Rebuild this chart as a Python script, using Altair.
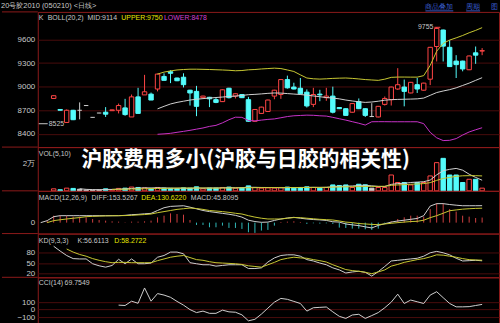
import altair as alt
import pandas as pd

# ---------------- data ----------------
opens = [8850,8710,8545,8700,8700,8760,8610,8665,8675,8695,
         8700,8730,8615,8870,8895,8905,8970,9130,9190,9110,
         9120,8955,8940,8860,8865,8835,8810,8980,8880,8900,
         8835,8560,8660,8685,8880,8900,9090,8995,8980,8930,
         8775,8905,8860,8880,8735,8720,8675,8810,8720,8620,
         8615,8775,8835,8970,8995,8920,9025,8955,9095,9510,
         9720,9500,9325,9325,9215,9430,9452]
closes = [8885,8700,8700,8580,8700,8760,8610,8665,8650,8705,
          8760,8645,8870,8660,8935,8830,9160,9080,9170,9075,
          9025,8920,8750,8880,8845,8800,8960,8860,8910,8860,
          8560,8710,8740,8830,8955,9090,8985,8970,8910,8755,
          8900,8895,8880,8675,8720,8635,8785,8720,8635,8620,
          8750,8850,8995,9025,8940,9055,8970,9045,9500,9740,
          9515,9255,9280,9225,9390,9400,9458]
highs = [8890,8712,8710,8705,8800,8765,8612,8668,8740,8708,
         8785,8845,8900,8985,9150,8925,9165,9170,9210,9115,
         9170,8960,9010,8885,8870,8860,8965,8985,8915,8905,
         8870,8715,8745,8835,8960,9095,9140,9050,9110,8965,
         8985,8960,8985,9000,8740,8725,8790,8850,8725,8790,
         8755,8875,9000,9235,9090,9060,9110,9050,9505,9755,
         9725,9590,9400,9330,9395,9510,9490]
lows = [8845,8698,8540,8575,8585,8757,8608,8662,8615,8692,
        8660,8630,8615,8660,8895,8830,8940,9080,9045,9070,
        8990,8760,8625,8855,8740,8790,8805,8850,8850,8855,
        8555,8555,8655,8680,8840,8845,8975,8965,8900,8735,
        8740,8815,8820,8660,8715,8630,8670,8715,8615,8615,
        8610,8760,8760,8960,8750,8915,8920,8950,9020,9320,
        9320,9250,9110,9195,9210,9290,9400]
volumes = [1500,800,2000,1800,1200,500,500,600,1500,800,
           1800,2000,2800,2500,2200,1500,2500,2000,1800,1500,
           2200,2000,3000,1500,2000,2000,2500,2800,2000,2000,
           3700,2500,2000,2200,2000,2500,2800,2000,2500,3000,
           2500,2000,2500,4400,4000,4400,2500,4900,4500,2000,
           2500,2500,11800,6200,6200,4400,6200,6200,11100,21000,
           24200,11800,11800,6200,8600,8600,2000]
vol_ma5 = [None]*4 + [1560,1100,920,880,1000,1040,1220,1400,1780,1980,
                      2260,2160,2300,2200,2000,1920,2000,1800,2100,2000,
                      2140,2100,2200,2360,2260,2400,
                      2600,2600,2500,2480,2480,2200,2400,2400,2500,2560,
                      2600,2560,2600,3000,3280,3500,3600,4000,4140,3700,3300,
                      3200,4800,5400,5600,6200,6500,6800,8000,11900,15000,
                      16000,16700,15400,12400,10000,7900]
vol_ma10 = [None]*9 + [1100,1150,1250,1350,1450,1550,1650,1750,1850,1950,
                       2050,2100,2100,2100,2100,2050,2050,2100,2150,2200,2250,
                       2300,2350,2400,2400,2450,2450,2450,2450,2450,2500,
                       2550,2550,2600,2750,2900,3000,3050,3150,3250,3350,3300,
                       3400,4100,4400,4600,4900,5100,5400,6100,7800,9200,
                       10000,10800,11200,11300,11300,11100]
boll_start = 16
boll_mid = [8718,8750,8780,8800,8815,8830,8840,8848,8855,8862,
            8868,8875,8880,8888,8898,8902,8908,8915,8920,8918,
            8912,8906,8900,8892,8882,8872,8862,8855,8845,8830,
            8818,8808,8800,8805,8815,8828,8835,8838,8840,8842,
            8845,8855,8890,8925,8945,8962,8985,9015,9045,9080,9114]
boll_upper = [9160,9185,9200,9212,9218,9222,9222,9220,9218,9215,
              9212,9208,9202,9205,9214,9218,9225,9230,9235,9230,
              9212,9193,9150,9110,9100,9096,9100,9105,9108,9110,
              9105,9098,9090,9085,9080,9095,9118,9122,9122,9121,
              9121,9140,9270,9450,9550,9592,9620,9650,9685,9715,9750]
boll_lower = [8395,8400,8407,8420,8432,8445,8460,8475,8495,8508,
              8540,8580,8612,8610,8570,8565,8575,8584,8590,8605,
              8620,8630,8634,8638,8636,8630,8626,8610,8592,8575,
              8555,8535,8512,8554,8555,8555,8554,8554,8554,8554,
              8554,8530,8420,8350,8315,8318,8340,8385,8424,8452,8478]
macd_start = -2
macd_diff = [0,18,54,63,63,63,63,63,63,63,
             63,63,63,66,72,75,80,84,110,135,
             147,150,153,140,125,110,100,92,84,76,
             66,50,22,10,3,5,20,33,42,48,
             40,33,28,25,20,8,5,-12,-20,-27,
             -38,-48,-25,-10,5,15,22,30,38,63,
             150,172,172,164,158,153,153,153,153.5]
macd_dea = [None,0,18,26,33,40,46,54,57,59,
            61,62,63,64,66,70,73,78,90,100,
            110,120,126,132,128,120,110,105,100,93,
            85,78,63,50,40,33,33,33,40,46,
            45,40,35,30,27,24,15,5,0,-8,
            -12,-16,-18,-12,-6,0,5,10,12,22,
            45,63,85,108,115,122,126,129,130.6]
macd_bar = [0,18,63,63,63,54,54,48,33,24,
            18,12,9,3,9,9,12,18,48,63,
            84,78,72,24,-21,-21,-42,-42,-27,-48,
            -48,-57,-87,-93,-72,-66,-27,6,9,12,
            6,-12,-6,-9,-6,-12,-45,-48,-54,-54,
            -60,-66,-54,-6,12,33,48,63,63,54,
            123,174,174,123,100,63,54,42,46]
kd_k = [99,85,72,63,62,62,48,42,38,43,
        61,48,62,48,48,50,67,72,82,82,
        77,51,48,45,45,41,43,45,45,45,
        34,34,36,53,65,72,74,74,70,60,
        56,50,45,36,30,21,24,26,23,12,
        25,40,56,58,60,62,64,70,80,84,
        80,74,64,56,57,58,56.6]
kd_d = [None,None,91,82,75,70,63,58,54,51,
        52,52,51,51,51,51,57,62,67,70,
        72,66,60,58,54,51,50,49,48,46,
        42,40,38,45,52,60,64,67,65,64,
        60,57,53,45,38,31,28,26,23,19,
        24,30,41,46,52,56,60,63,68,74,
        73,70,67,63,60,59,58.3]
cci_start = 10
cci_vals = [60,55,113,85,290,113,215,195,165,110,
            60,0,-40,-20,-50,-50,-7,-30,-35,-70,
            -150,-130,-60,20,100,150,138,110,82,-20,
            25,30,35,-30,-90,-118,-72,-63,-118,-80,
            -40,25,100,207,82,128,105,82,195,240,
            160,82,37,37,40,55,69.75]
price_ticks = [8400, 8700, 9000, 9300, 9600]
vol_ticks = [20000]
macd_ticks = [0]
kd_ticks = [20, 50, 80]
cci_ticks = [-100, 0, 100]

title_text = "沪胶费用多小(沪胶与日胶的相关性)"
header_text = "20号胶2010 (050210) <日线>"

# ---------------- style ----------------
BG = "#000000"
BORDER = "#8c1a1a"
GRID = "#4a0c0c"
RED = "#ff4646"
CYAN = "#54fcfc"
WHITE = "#d0d0d0"
YEL = "#c8c832"
YELT = "#e6e600"
MAG = "#c832c8"
MAGT = "#d040d0"
TXT = "#c8c8c8"
BLUE = "#3a5fd0"
W = 464
XDOM = [-2.45, 68.6]
LF = "Liberation Sans"
HW = 0.34

one = pd.DataFrame({"a": [0]})


def xq(field):
    return alt.X(field, type="quantitative",
                 scale=alt.Scale(domain=XDOM, nice=False, zero=False), axis=None)


def yax(values, grid=True, expr=None):
    kw = dict(values=values, grid=grid, gridColor=GRID, gridWidth=1, ticks=False,
              domain=False, labelColor=TXT, labelFont=LF, labelFontSize=8,
              labelPadding=3, minExtent=36, maxExtent=36, title=None,
              labelOverlap=False, format="d")
    if expr:
        kw["labelExpr"] = expr
    return alt.Axis(**kw)


def yq(field, dom, ax):
    return alt.Y(field, type="quantitative",
                 scale=alt.Scale(domain=dom, nice=False, zero=False), axis=ax)


def txt(s, px, py, color=TXT, size=7, font=LF, align="left", weight="normal"):
    return alt.Chart(one).mark_text(text=s, align=align, baseline="middle",
                                    fontSize=size, font=font, color=color,
                                    fontWeight=weight).encode(
        x=alt.value(px), y=alt.value(py))


def left_sep():
    return alt.Chart(one).mark_rule(color=BORDER, strokeWidth=1).encode(
        x=alt.value(-36), x2=alt.value(0), y=alt.value(0))


def series(vals, start, name, color):
    rows = [dict(i=start + k, v=v, s=name, col=color)
            for k, v in enumerate(vals) if v is not None]
    return pd.DataFrame(rows)


# ---------------- frames ----------------
rows = []
for k in range(len(opens)):
    o, c = opens[k], closes[k]
    kind = "up" if c > o else ("down" if c < o else "flat")
    col = RED if kind == "up" else (CYAN if kind == "down" else WHITE)
    fillc = BG if kind == "up" else col
    rows.append(dict(i=k, o=o, c=c, h=highs[k], l=lows[k], kind=kind, col=col,
                     fillc=fillc, x0=k - HW, x1=k + HW, top=max(o, c),
                     bot=min(o, c), vol=volumes[k]))
cdf = pd.DataFrame(rows)
body_df = cdf[cdf.kind != "flat"]
flat_df = cdf[cdf.kind == "flat"]

# ---------------- header ----------------
header = alt.layer(
    alt.Chart(one).mark_point(opacity=0, size=0).encode(
        y=alt.Y("a:Q", axis=alt.Axis(labels=False, ticks=False, domain=False,
                                     grid=False, minExtent=36, maxExtent=36,
                                     title=None))),
    txt(header_text, -37, 4, TXT, 7.5),
    txt("商品叠加", 390, 5, BLUE, 7),
    txt("周期", 431, 5, BLUE, 7),
    txt("图", 456, 5, BLUE, 7),
    alt.Chart(one).mark_rule(color=BLUE).encode(x=alt.value(390), x2=alt.value(418), y=alt.value(9)),
    alt.Chart(one).mark_rule(color=BLUE).encode(x=alt.value(431), x2=alt.value(445), y=alt.value(9)),
).properties(width=W, height=10, view=alt.ViewBackground(stroke="transparent"))

# ---------------- price panel ----------------
PD = [8232, 9950]
pax = yax(price_ticks)
boll_df = pd.concat([
    series(boll_mid, boll_start, "mid", WHITE),
    series(boll_upper, boll_start, "upper", YEL),
    series(boll_lower, boll_start, "lower", MAG),
])
price = alt.layer(
    alt.Chart(cdf).mark_rule(strokeWidth=1).encode(
        x=xq("i"), y=yq("l", PD, pax), y2="h",
        color=alt.Color("col:N", scale=None)),
    alt.Chart(body_df).mark_rect(strokeWidth=1).encode(
        x=xq("x0"), x2="x1", y=yq("bot", PD, pax), y2="top",
        fill=alt.Fill("fillc:N", scale=None), stroke=alt.Stroke("col:N", scale=None)),
    alt.Chart(flat_df).mark_rule(strokeWidth=1).encode(
        x=xq("x0"), x2="x1", y=yq("c", PD, pax),
        color=alt.Color("col:N", scale=None)),
    alt.Chart(boll_df).mark_line(strokeWidth=1).encode(
        x=xq("i"), y=yq("v", PD, pax), color=alt.Color("col:N", scale=None),
        detail="s:N"),
    left_sep(),
    txt("K", 1, 6, TXT),
    txt("BOLL(20,2)", 10, 6, TXT),
    txt("MID:9114", 50, 6, TXT),
    txt("UPPER:9750", 84, 6, YELT),
    txt("LOWER:8478", 127, 6, MAGT),
    txt("9755", 398, 15, TXT, 7, align="right"),
    alt.Chart(one).mark_rule(color=RED).encode(x=alt.value(399), x2=alt.value(405), y=alt.value(15.5)),
    alt.Chart(one).mark_rule(color=TXT).encode(x=alt.value(1), x2=alt.value(10), y=alt.value(112.5)),
    txt("8525", 11, 112.5, TXT, 7),
).properties(width=W, height=136)

# ---------------- volume panel ----------------
VD = [0, 32593]
vax = yax(vol_ticks, grid=False, expr="datum.value == 20000 ? '2万' : ''")
vma_df = pd.concat([series(vol_ma5, 0, "ma5", WHITE), series(vol_ma10, 0, "ma10", YEL)])
volume = alt.layer(
    alt.Chart(cdf).mark_rect(strokeWidth=1).encode(
        x=xq("x0"), x2="x1", y=yq("vol", VD, vax), y2=alt.datum(0),
        fill=alt.Fill("fillc:N", scale=None), stroke=alt.Stroke("col:N", scale=None)),
    alt.Chart(vma_df).mark_line(strokeWidth=1).encode(
        x=xq("i"), y=yq("v", VD, vax), color=alt.Color("col:N", scale=None),
        detail="s:N"),
    left_sep(),
    txt("VOL(5,10)", 1, 7, TXT),
    txt(title_text, 210, 14, "#111111", 21, "Noto Sans CJK SC", "center", "bold"),
    txt(title_text, 209, 13, "#ffffff", 21, "Noto Sans CJK SC", "center", "bold"),
).properties(width=W, height=44)

# ---------------- MACD panel ----------------
MD = [-99, 288]
max_ = yax(macd_ticks, grid=False)
bar_df = pd.DataFrame([dict(i=macd_start + k, m=v, col=("#d04040" if v >= 0 else "#30b8b8"))
                       for k, v in enumerate(macd_bar)])
macd_lines = pd.concat([series(macd_diff, macd_start, "diff", WHITE),
                        series(macd_dea, macd_start, "dea", YEL)])
macd = alt.layer(
    alt.Chart(bar_df).mark_rule(strokeWidth=1).encode(
        x=xq("i"), y=yq("m", MD, max_), y2=alt.datum(0),
        color=alt.Color("col:N", scale=None)),
    alt.Chart(macd_lines).mark_line(strokeWidth=1).encode(
        x=xq("i"), y=yq("v", MD, max_), color=alt.Color("col:N", scale=None),
        detail="s:N"),
    left_sep(),
    txt("MACD(12,26,9)", 1, 7, TXT),
    txt("DIFF:153.5267", 54, 7, TXT),
    txt("DEA:130.6220", 104, 7, YELT),
    txt("MACD:45.8095", 154, 7, TXT),
).properties(width=W, height=43)

# ---------------- KD panel ----------------
KDD = [8.4, 136]
kax = yax(kd_ticks)
kd_df = pd.concat([series(kd_k, 0, "k", WHITE), series(kd_d, 0, "d", YEL)])
kd = alt.layer(
    alt.Chart(kd_df).mark_line(strokeWidth=1).encode(
        x=xq("i"), y=yq("v", KDD, kax), color=alt.Color("col:N", scale=None),
        detail="s:N"),
    left_sep(),
    txt("KD(9,3,3)", 1, 7, TXT),
    txt("K:56.6113", 40, 7, TXT),
    txt("D:58.2722", 77, 7, YELT),
).properties(width=W, height=44)

# ---------------- CCI panel ----------------
CD = [-180, 433]
cax = yax(cci_ticks)
cci_df = series(cci_vals, cci_start, "cci", WHITE)
cci = alt.layer(
    alt.Chart(cci_df).mark_line(strokeWidth=1).encode(
        x=xq("i"), y=yq("v", CD, cax), color=alt.Color("col:N", scale=None)),
    left_sep(),
    txt("CCI(14)", 1, 6, TXT),
    txt("69.7549", 27, 6, TXT),
).properties(width=W, height=46)

chart = alt.vconcat(header, price, volume, macd, kd, cci, spacing=0,
                    bounds="flush").resolve_scale(
    y="independent").properties(background=BG, padding=0).configure_view(
    stroke=BORDER, strokeWidth=1)

chart.save("out.html", embed_options={"renderer": "svg", "actions": False})
